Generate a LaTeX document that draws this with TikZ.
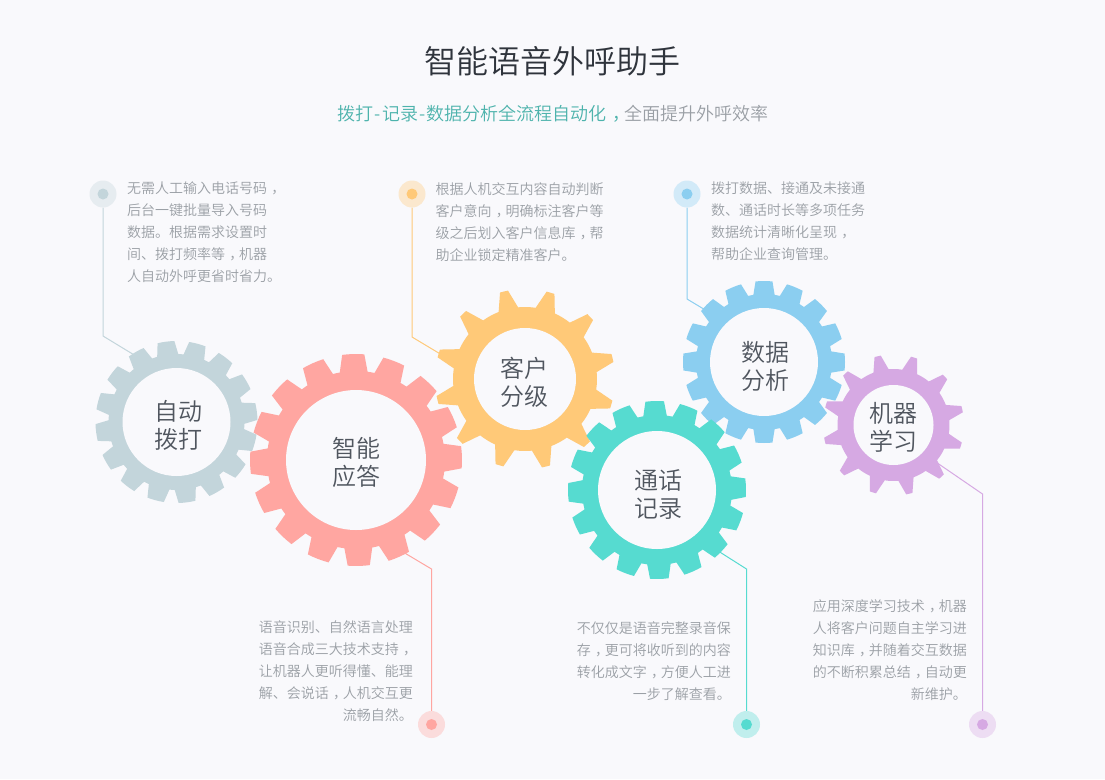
\documentclass[tikz,border=0pt]{standalone}
\usepackage{fontspec}
\setmainfont{Noto Sans CJK SC}[UprightFont={* DemiLight}]
\pgfdeclarelayer{bgl}
\pgfdeclarelayer{conn}
\pgfsetlayers{bgl,conn,main}
\definecolor{pagebg}{HTML}{F9F9FC}
\definecolor{cGrey}{HTML}{C3D5DB}
\definecolor{cRed}{HTML}{FFA6A1}
\definecolor{cYellow}{HTML}{FFC978}
\definecolor{cTeal}{HTML}{56DBD0}
\definecolor{cBlue}{HTML}{8BCEF0}
\definecolor{cPurple}{HTML}{D6A9E3}
\definecolor{gearText}{HTML}{50565F}
\definecolor{bodyText}{HTML}{9A9FA5}
\definecolor{titleText}{HTML}{2F343C}
\definecolor{subTeal}{HTML}{4DB3AC}
\newcommand\cm{\kern.3em，\kern-.3em}
\newcommand\hy{\kern.07em-\kern.07em}
\tikzset{
  x=1pt,y=1pt,
  hole/.style={circle,fill=pagebg,inner sep=0pt},
  geartext/.style={inner sep=0pt,align=center,text=gearText,
    font=\fontsize{24}{28}\selectfont},
  para/.style={inner sep=0pt,text=bodyText,font=\fontsize{14}{22}\selectfont},
  paraL/.style={para,align=left,anchor=north west},
  paraR/.style={para,align=right,anchor=north east},
  halo/.style={circle,minimum size=27pt,inner sep=0pt,fill=#1!35!pagebg},
  core/.style={circle,minimum size=11pt,inner sep=0pt,fill=#1},
  link/.style={draw=#1,line width=1pt},
}
\begin{document}
\begin{tikzpicture}
\useasboundingbox (0,0) rectangle (1105,-779);
\begin{pgfonlayer}{bgl}
\fill[pagebg] (0,0) rectangle (1105,-779);
\end{pgfonlayer}

\node[text=titleText,font=\fontsize{32}{36}\selectfont,inner sep=0pt] (title) at (552.5,-61) {智能语音外呼助手};
\node[font=\fontsize{18}{22}\selectfont,inner sep=0pt] (subtitle) at (553,-114) {\textcolor{subTeal}{拨打\hy 记录\hy 数据分析全流程自动化\cm}\textcolor{bodyText}{全面提升外呼效率}};

% gears: name/x/y/teeth-1/tip radius/root radius/hole radius/first tooth angle/tip half-angle/base half-angle/colour/text x/text y/label
\foreach \nm/\gx/\gy/\gn/\gR/\gr/\gh/\gs/\gt/\gb/\gc/\tx/\ty/\gl in {
  g1/176.5/-422/15/81/68/54/75/6/9/cGrey/178.5/-425/{自动\\拨打},
  g2/356/-460/15/106/89/70/91.5/6/9/cRed/356.5/-462/{智能\\应答},
  g3/525/-379/11/90/72/51/73.5/2.6/8/cYellow/524.5/-382/{客户\\分级},
  g5/764/-362/15/81/68/54/90/6/9/cBlue/765/-366/{数据\\分析},
  g6/893.5/-425/11/70.5/56/40/73/2.6/8/cPurple/893/-427/{机器\\学习},
  g4/657/-490/15/89/75/59/91.5/6/9/cTeal/658/-494/{通话\\记录}} {
  \pgfmathsetmacro\gp{360/(\gn+1)}
  \begin{scope}[shift={(\gx,\gy)}]
    \fill[\gc] ({\gs-\gb}:\gr)
      foreach \k [evaluate=\k as \ga using \gs+\k*\gp] in {0,...,\gn} {
        -- ({\ga-\gb}:\gr) -- ({\ga-\gt}:\gR)
        arc[start angle=\ga-\gt,delta angle=2*\gt,radius=\gR pt]
        -- ({\ga+\gb}:\gr)
        arc[start angle=\ga+\gb,delta angle=\gp-2*\gb,radius=\gr pt]
      } -- cycle;
  \end{scope}
  \node[hole,minimum size=2*\gh pt] (\nm) at (\gx,\gy) {};
  \node[geartext] (\nm t) at (\tx,\ty) {\gl};
}

% paragraphs
\node[paraL] (t1) at (127,-182) {无需人工输入电话号码\cm\\后台一键批量导入号码\\数据。根据需求设置时\\间、拨打频率等\cm 机器\\人自动外呼更省时省力。};
\node[paraL] (t3) at (435.5,-182) {根据人机交互内容自动判断\\客户意向\cm 明确标注客户等\\级之后划入客户信息库\cm 帮\\助企业锁定精准客户。};
\node[paraL] (t5) at (711,-182) {拨打数据、接通及未接通\\数、通话时长等多项任务\\数据统计清晰化呈现\cm\\帮助企业查询管理。};
\node[paraR] (t2) at (413,-620.5) {语音识别、自然语言处理\\语音合成三大技术支持\cm\\让机器人更听得懂、能理\\解、会说话\cm 人机交互更\\流畅自然。};
\node[paraR] (t4) at (731,-621) {不仅仅是语音完整录音保\\存\cm 更可将收听到的内容\\转化成文字\cm 方便人工进\\一步了解查看。};
\node[paraR] (t6) at (967,-599) {应用深度学习技术\cm 机器\\人将客户问题自主学习进\\知识库\cm 并随着交互数据\\的不断积累总结\cm 自动更\\新维护。};

% dots
\foreach \nm/\dx/\dy/\dc in {d1/103/-194/cGrey,d2/431.5/-724.5/cRed,d3/412/-194/cYellow,d4/746.5/-724.5/cTeal,d5/687/-194/cBlue,d6/982.5/-724.5/cPurple}{
  \node[halo=\dc] (\nm) at (\dx,\dy) {};
  \node[core=\dc] at (\dx,\dy) {};
}

% connector bends and ends
\coordinate (b1) at (103,-336);    \coordinate (e1) at (140,-358.5);
\coordinate (b2) at (431.5,-569);  \coordinate (e2) at (398,-549);
\coordinate (b3) at (412,-337);    \coordinate (e3) at (447,-358);
\coordinate (b4) at (746.5,-569);  \coordinate (e4) at (715,-549);
\coordinate (b5) at (687,-299);    \coordinate (e5) at (712,-314);
\coordinate (b6) at (982.5,-494);  \coordinate (e6) at (930,-458);

\begin{pgfonlayer}{conn}
\draw[link=cGrey] (d1) -- (b1) -- (e1);
\draw[link=cRed] (d2) -- (b2) -- (e2);
\draw[link=cYellow] (d3) -- (b3) -- (e3);
\draw[link=cTeal] (d4) -- (b4) -- (e4);
\draw[link=cBlue] (d5) -- (b5) -- (e5);
\draw[link=cPurple] (d6) -- (b6) -- (e6);
\end{pgfonlayer}
\end{tikzpicture}
\end{document}
